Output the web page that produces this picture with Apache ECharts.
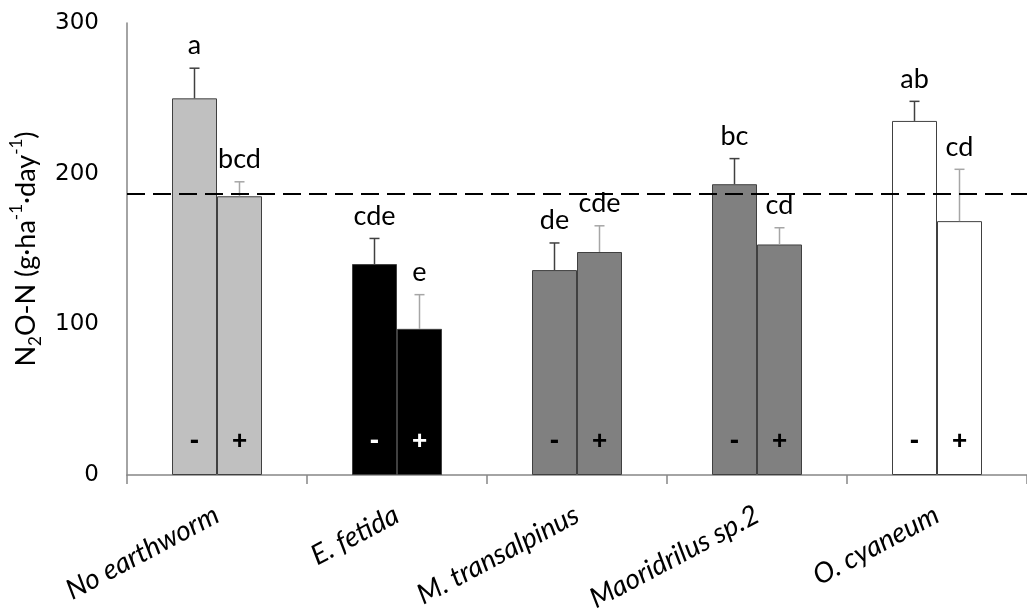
<!DOCTYPE html>
<html>
<head>
<meta charset="utf-8">
<script src="https://cdn.jsdelivr.net/npm/echarts@6/dist/echarts.min.js"></script>
<style>
html,body{margin:0;padding:0;background:#fff;}
#chart{width:1027px;height:615px;}
</style>
</head>
<body>
<div id="chart"></div>
<script>
const categories = ['No earthworm', 'E. fetida', 'M. transalpinus', 'Maoridrilus sp.2', 'O. cyaneum'];
const minusValues = [250, 140, 136, 193, 235];
const plusValues = [185, 97, 148, 153, 168.5];
const minusErrors = [20, 17, 18, 17, 13];
const plusErrors = [9.6, 22.7, 17.4, 11.1, 34.4];
const minusLetters = ['a', 'cde', 'de', 'bc', 'ab'];
const plusLetters = ['bcd', 'e', 'cde', 'cd', 'cd'];
const barColors = ['#c0c0c0', '#000000', '#808080', '#808080', '#ffffff'];
const signColors = ['#000000', '#ffffff', '#000000', '#000000', '#000000'];
const referenceLine = 187;
const yMin = 0, yMax = 300, yInterval = 100;

const chart = echarts.init(document.getElementById('chart'), null, {renderer: 'canvas'});

function barData(values) {
  return values.map((v, i) => ({
    value: v,
    itemStyle: {color: barColors[i]},
    label: {color: signColors[i]}
  }));
}

function errorSeries(values, errors, letters, side, color) {
  return {
    type: 'custom',
    z: 5,
    silent: true,
    data: values.map((v, i) => [i, v, errors[i]]),
    renderItem: function (params, api) {
      const x = api.value(0), top = api.value(1), err = api.value(2);
      const c1 = api.coord([x, top]);
      const c2 = api.coord([x, top + err]);
      const band = api.size([1, 0])[0];
      const px = c1[0] + side * band * 0.125;
      return {
        type: 'group',
        children: [
          {type: 'line', shape: {x1: px, y1: c1[1], x2: px, y2: c2[1]}, style: {stroke: color, lineWidth: 1.5}},
          {type: 'line', shape: {x1: px - 5, y1: c2[1], x2: px + 5, y2: c2[1]}, style: {stroke: color, lineWidth: 1.5}},
          {type: 'text', x: px, y: c2[1] - 9, style: {text: letters[params.dataIndex], fill: '#000', font: '27px Lato', textAlign: 'center', textVerticalAlign: 'bottom'}}
        ]
      };
    }
  };
}

const option = {
  animation: false,
  backgroundColor: '#fff',
  grid: {left: 127, top: 23, width: 909, height: 452, containLabel: false},
  xAxis: {
    type: 'category',
    data: categories,
    axisLine: {lineStyle: {color: '#868686', width: 1.5}},
    axisTick: {show: true, length: 9, lineStyle: {color: '#868686', width: 1.5}},
    axisLabel: {interval: 0, rotate: 28, fontStyle: 'italic', fontFamily: 'Lato', fontSize: 28, color: '#000', margin: 38}
  },
  yAxis: {
    type: 'value',
    min: yMin, max: yMax, interval: yInterval,
    axisLine: {show: true, lineStyle: {color: '#868686', width: 1.5}},
    axisTick: {show: false},
    splitLine: {show: false},
    axisLabel: {fontFamily: 'DejaVu Sans', fontSize: 23, color: '#000', margin: 28},
    name: '{n|N}{sub|2}{n|O-N (g·ha}{sup|-1}{n|·day}{sup|-1}{n|)}',
    nameLocation: 'middle',
    nameGap: 80,
    nameTextStyle: {
      rich: {
        n: {fontFamily: 'Lato', fontSize: 27, color: '#000', lineHeight: 36},
        sub: {fontFamily: 'Lato', fontSize: 17, color: '#000', lineHeight: 17, verticalAlign: 'bottom'},
        sup: {fontFamily: 'Lato', fontSize: 17, color: '#000', lineHeight: 17, verticalAlign: 'top'}
      }
    }
  },
  series: [
    {
      type: 'bar',
      name: 'minus',
      data: barData(minusValues),
      barGap: '0%',
      barCategoryGap: '50%',
      itemStyle: {borderColor: '#404040', borderWidth: 1},
      label: {show: true, position: 'insideBottom', distance: 20, formatter: '-', fontWeight: 'bold', fontSize: 28, fontFamily: 'Liberation Sans'},
      markLine: {
        silent: true, symbol: 'none', z: 10,
        label: {show: false},
        lineStyle: {type: [18, 8], color: '#000', width: 2},
        data: [{yAxis: referenceLine}]
      }
    },
    {
      type: 'bar',
      name: 'plus',
      data: barData(plusValues),
      barGap: '0%',
      barCategoryGap: '50%',
      itemStyle: {borderColor: '#404040', borderWidth: 1},
      label: {show: true, position: 'insideBottom', distance: 20, formatter: '+', fontWeight: 'bold', fontSize: 26, fontFamily: 'Liberation Sans'}
    },
    errorSeries(minusValues, minusErrors, minusLetters, -1, '#404040'),
    errorSeries(plusValues, plusErrors, plusLetters, 1, '#a6a6a6')
  ]
};
chart.setOption(option);
</script>
</body>
</html>
